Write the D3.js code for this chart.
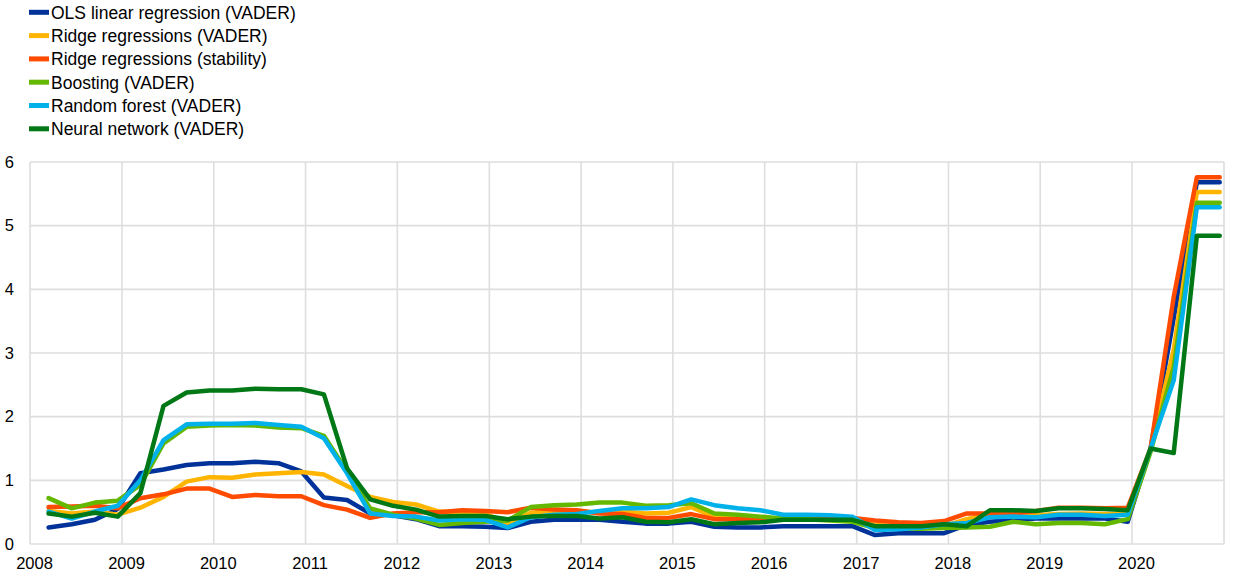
<!DOCTYPE html>
<html>
<head>
<meta charset="utf-8">
<script src="https://cdn.jsdelivr.net/npm/d3@7"></script>
<style>
  html, body { margin: 0; padding: 0; background: #fff; }
  svg { display: block; font-family: "Liberation Sans", Arial, sans-serif; }
</style>
</head>
<body>
<svg id="chart" width="1240" height="583"></svg>
<script>
// ---- data (quarterly, 2008Q1 .. 2020Q4) ----
const years = d3.range(2008, 2021);
const quarters = [];
years.forEach(y => [1, 2, 3, 4].forEach(q => quarters.push(y + "Q" + q)));

const tickYears = ["2008","2009","2010","2011","2012","2013","2014","2015","2016","2017","2018","2019","2020"];
const yTicks = [0, 1, 2, 3, 4, 5, 6];

const seriesNames = [
  "OLS linear regression (VADER)",
  "Ridge regressions (VADER)",
  "Ridge regressions (stability)",
  "Boosting (VADER)",
  "Random forest (VADER)",
  "Neural network (VADER)"
];
const seriesColors = ["#003299", "#FFB400", "#FF4B00", "#65B800", "#00B1EA", "#007816"];

const olsVader = [0.26,0.31,0.38,0.55, 1.11,1.17,1.24,1.27, 1.27,1.29,1.27,1.14, 0.73,0.69,0.48,0.45,
  0.39,0.28,0.28,0.27, 0.25,0.35,0.38,0.38, 0.38,0.35,0.32,0.32, 0.35,0.27,0.26,0.26,
  0.28,0.28,0.28,0.28, 0.14,0.17,0.17,0.17, 0.30,0.35,0.38,0.40, 0.40,0.40,0.40,0.35,
  1.50,3.55,5.68,5.68];
const ridgeVader = [0.52,0.48,0.51,0.46, 0.57,0.74,0.98,1.05, 1.04,1.09,1.11,1.13, 1.09,0.91,0.74,0.66,
  0.62,0.51,0.50,0.48, 0.32,0.49,0.52,0.52, 0.49,0.51,0.48,0.49, 0.58,0.43,0.43,0.40,
  0.40,0.40,0.38,0.36, 0.30,0.28,0.28,0.28, 0.39,0.47,0.47,0.45, 0.47,0.48,0.47,0.47,
  1.50,3.05,5.53,5.53];
const ridgeStability = [0.58,0.59,0.60,0.56, 0.72,0.78,0.87,0.87, 0.74,0.77,0.75,0.75, 0.61,0.54,0.41,0.48,
  0.50,0.50,0.53,0.52, 0.50,0.57,0.54,0.53, 0.48,0.47,0.41,0.41, 0.47,0.39,0.39,0.39,
  0.39,0.38,0.40,0.41, 0.37,0.34,0.33,0.36, 0.48,0.48,0.48,0.52, 0.57,0.57,0.56,0.57,
  1.50,3.88,5.76,5.76];
const boostingVader = [0.72,0.56,0.65,0.68, 0.93,1.58,1.84,1.86, 1.87,1.86,1.83,1.82, 1.70,1.14,0.56,0.46,
  0.40,0.30,0.33,0.35, 0.37,0.58,0.61,0.62, 0.65,0.65,0.60,0.61, 0.64,0.48,0.46,0.43,
  0.40,0.39,0.37,0.35, 0.25,0.24,0.24,0.25, 0.26,0.27,0.35,0.31, 0.33,0.33,0.31,0.39,
  1.45,2.78,5.36,5.36];
const forestVader = [0.51,0.40,0.51,0.60, 1.00,1.63,1.88,1.89, 1.89,1.90,1.87,1.84, 1.66,1.11,0.48,0.44,
  0.43,0.37,0.39,0.38, 0.26,0.42,0.46,0.47, 0.52,0.56,0.56,0.58, 0.70,0.61,0.56,0.53,
  0.46,0.46,0.45,0.43, 0.22,0.23,0.26,0.31, 0.33,0.42,0.43,0.42, 0.46,0.46,0.44,0.46,
  1.50,2.57,5.29,5.29];
const neuralVader = [0.48,0.43,0.49,0.43, 0.80,2.17,2.38,2.41, 2.41,2.44,2.43,2.43, 2.35,1.19,0.70,0.60,
  0.54,0.43,0.44,0.44, 0.39,0.43,0.44,0.44, 0.40,0.42,0.35,0.34, 0.39,0.31,0.33,0.34,
  0.38,0.38,0.38,0.38, 0.28,0.28,0.28,0.31, 0.28,0.53,0.53,0.52, 0.56,0.56,0.55,0.53,
  1.50,1.43,4.84,4.84];

const seriesValues = [olsVader, ridgeVader, ridgeStability, boostingVader, forestVader, neuralVader];

// ---- layout ----
const svg = d3.select("#chart");
const plotLeft = 30, plotRight = 1224, plotTop = 162, plotBottom = 544;
const axisFontSize = "16.5px";
const legendFontSize = "17.5px";
const fontFam = "'Liberation Sans', Arial, sans-serif";

// quarter -> date (middle of last month of quarter)
const qDate = s => new Date(+s.slice(0, 4), (+s.slice(5)) * 3 - 1, 15);

const x = d3.scaleTime()
  .domain([new Date(2008, 0, 1), new Date(2021, 0, 1)])
  .range([plotLeft, plotRight]);
const y = d3.scaleLinear().domain([0, 6]).range([plotBottom, plotTop]);

// grid
const grid = svg.append("g").attr("stroke", "#dedede").attr("stroke-width", 1.6);
grid.selectAll("line.h").data(yTicks).join("line").attr("class", "h")
  .attr("x1", plotLeft).attr("x2", plotRight)
  .attr("y1", d => y(d)).attr("y2", d => y(d));
const gridYears = d3.range(2008, 2022).map(v => new Date(v, 0, 1));
grid.selectAll("line.v").data(gridYears).join("line").attr("class", "v")
  .attr("x1", d => x(d)).attr("x2", d => x(d))
  .attr("y1", plotTop).attr("y2", plotBottom);

// axes
const xAxis = d3.axisBottom(x)
  .tickValues(tickYears.map(t => new Date(+t, 0, 1)))
  .tickFormat(d => d3.timeFormat("%Y")(d))
  .tickSize(0).tickPadding(13.5);
svg.append("g").attr("transform", `translate(4,${plotBottom})`).call(xAxis)
  .call(g => g.select(".domain").remove())
  .selectAll("text").attr("fill", "#000").style("font-size", axisFontSize)
  .style("font-family", fontFam);

const yAxis = d3.axisLeft(y).tickValues(yTicks).tickFormat(d3.format("d"))
  .tickSize(0).tickPadding(16);
svg.append("g").attr("transform", `translate(${plotLeft},0)`).call(yAxis)
  .call(g => g.select(".domain").remove())
  .selectAll("text").attr("fill", "#000").style("font-size", axisFontSize)
  .style("font-family", fontFam);

// lines
const line = d3.line()
  .x((d, i) => x(qDate(quarters[i])))
  .y(d => y(d));
svg.append("g").selectAll("path").data(seriesValues).join("path")
  .attr("d", d => line(d))
  .attr("fill", "none")
  .attr("stroke", (d, i) => seriesColors[i])
  .attr("stroke-width", 4.5)
  .attr("stroke-linejoin", "round")
  .attr("stroke-linecap", "round");

// legend
const legend = svg.append("g");
const rows = legend.selectAll("g").data(seriesNames).join("g")
  .attr("transform", (d, i) => `translate(0,${12.3 + i * 23.3})`);
rows.append("line")
  .attr("x1", 29).attr("x2", 49).attr("y1", 0).attr("y2", 0)
  .attr("stroke", (d, i) => seriesColors[i]).attr("stroke-width", 5);
rows.append("text")
  .attr("x", 51).attr("y", 0).attr("dy", "0.36em")
  .style("font-size", legendFontSize).style("font-family", fontFam).attr("fill", "#000")
  .text(d => d);
</script>
</body>
</html>
